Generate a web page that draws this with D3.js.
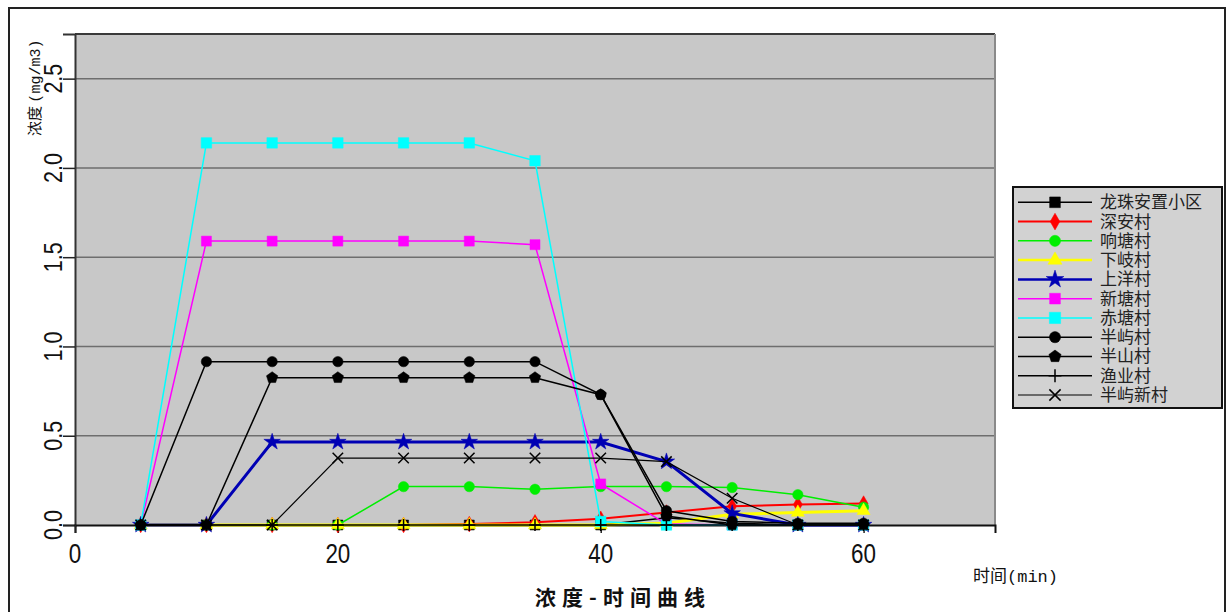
<!DOCTYPE html>
<html><head><meta charset="utf-8">
<script src="https://cdn.jsdelivr.net/npm/d3@7"></script>
<style>body{margin:0;background:#fff} svg{display:block}</style>
</head><body><svg id="c" width="1229" height="612"></svg>
<script>
// ---- data ----
const times = [5,10,15,20,25,30,35,40,45,50,55,60];
const seriesNames = ["龙珠安置小区","深安村","响塘村","下岐村","上洋村","新塘村","赤塘村","半屿村","半山村","渔业村","半屿新村"];
const longzhu   = [0,0,0,0,0,0,0,0,0.04,0.01,0,0];
const shenan    = [0,0,0,0,0,0.005,0.015,0.035,0.07,0.105,0.115,0.12];
const xiangtang = [0,0,0,0,0.215,0.215,0.2,0.215,0.215,0.21,0.17,0.1];
const xiaqi     = [0,0,0,0,0,0,0,0,0.01,0.06,0.07,0.08];
const shangyang = [0,0,0.465,0.465,0.465,0.465,0.465,0.465,0.355,0.065,0,0];
const xintang   = [0,1.59,1.59,1.59,1.59,1.59,1.57,0.23,0.005,0,0,0];
const chitang   = [0,2.14,2.14,2.14,2.14,2.14,2.04,0.02,0,0,0,0];
const banyu     = [0,0.915,0.915,0.915,0.915,0.915,0.915,0.73,0.08,0.02,0.01,0.01];
const banshan   = [0,0,0.825,0.825,0.825,0.825,0.825,0.73,0.05,0,0,0];
const yuye      = [0,0,0,0,0,0,0,0,0,0,0,0];
const banyuxin  = [0,0,0,0.375,0.375,0.375,0.375,0.375,0.355,0.15,0,0];
const seriesValues = [longzhu,shenan,xiangtang,xiaqi,shangyang,xintang,chitang,banyu,banshan,yuye,banyuxin];
const yTicks = [0,0.5,1.0,1.5,2.0,2.5];
const xTicks = [0,20,40,60];
const xTitle = "时间(min)";
const yTitleCn = "浓度";
const yTitleUnit = "(mg/m3)";
const chartTitle = "浓度-时间曲线";

// ---- custom symbols ----
const pentagon = {draw(ctx,size){const r=Math.sqrt(size/2.378);for(let i=0;i<5;i++){const a=-Math.PI/2+i*2*Math.PI/5;const px=r*Math.cos(a),py=r*Math.sin(a);i?ctx.lineTo(px,py):ctx.moveTo(px,py);}ctx.closePath();}};
const plusS = {draw(ctx,size){const r=Math.sqrt(size)/2;ctx.moveTo(0,-r);ctx.lineTo(0,r);ctx.moveTo(-r,0);ctx.lineTo(r,0);}};
const timesS = {draw(ctx,size){const r=Math.sqrt(size)/2;ctx.moveTo(-r,-r);ctx.lineTo(r,r);ctx.moveTo(-r,r);ctx.lineTo(r,-r);}};

const styles = [
 {color:"#000000", sym:d3.symbolSquare, size:100, w:1.5, fill:true},
 {color:"#ff0000", sym:d3.symbolDiamond, size:70, w:2, fill:true},
 {color:"#00ee00", sym:d3.symbolCircle, size:85, w:1.5, fill:true},
 {color:"#ffff00", sym:d3.symbolTriangle, size:75, w:3, fill:true},
 {color:"#0000b4", sym:d3.symbolStar, size:85, w:3, fill:true},
 {color:"#ff00ff", sym:d3.symbolSquare, size:100, w:1.5, fill:true},
 {color:"#00ffff", sym:d3.symbolSquare, size:110, w:1.5, fill:true},
 {color:"#000000", sym:d3.symbolCircle, size:85, w:1.5, fill:true},
 {color:"#000000", sym:pentagon, size:85, w:1.5, fill:true},
 {color:"#000000", sym:plusS, size:144, w:1.5, fill:false},
 {color:"#000000", sym:timesS, size:110, w:1.2, fill:false}
];

// ---- layout ----
const svg = d3.select("#c");
const x = d3.scaleLinear([0,70],[75,995]);
const y = d3.scaleLinear([0,2.75],[525,34]);

// outer frame
svg.append("rect").attr("x",9).attr("y",8).attr("width",1216).attr("height",640)
  .attr("fill","#fff").attr("stroke","#222").attr("stroke-width",2);

// plot area
svg.append("rect").attr("x",x(0)).attr("y",y(2.75)).attr("width",x(70)-x(0)).attr("height",y(0)-y(2.75))
  .attr("fill","#c8c8c8");
// gridlines
svg.append("g").selectAll("line").data(yTicks.filter(d=>d>0)).join("line")
  .attr("x1",x(0)).attr("x2",x(70)).attr("y1",d=>y(d)).attr("y2",d=>y(d))
  .attr("stroke","#6e6e6e").attr("stroke-width",1.5);
// borders
svg.append("line").attr("x1",x(0)).attr("x2",x(70)).attr("y1",y(2.75)).attr("y2",y(2.75)).attr("stroke","#3a3a3a").attr("stroke-width",2);
svg.append("line").attr("x1",x(70)).attr("x2",x(70)).attr("y1",y(2.75)).attr("y2",y(0)).attr("stroke","#8a8a8a").attr("stroke-width",2);

// axes
const yAxis = svg.append("g").attr("transform",`translate(${x(0)},0)`)
  .call(d3.axisLeft(y).tickValues(yTicks).tickSize(12).tickFormat(""));
yAxis.select(".domain").attr("stroke","#333").attr("stroke-width",2);
yAxis.selectAll(".tick line").attr("stroke","#222").attr("stroke-width",1.5);
const xAxis = svg.append("g").attr("transform",`translate(0,${y(0)})`)
  .call(d3.axisBottom(x).tickValues(xTicks).tickSize(8).tickFormat(""));
xAxis.select(".domain").attr("stroke","#111").attr("stroke-width",2);
xAxis.selectAll(".tick line").attr("stroke","#222").attr("stroke-width",1.5);

// tick labels
svg.append("g").selectAll("text").data(yTicks).join("text")
  .attr("transform",d=>`translate(62,${y(d)}) rotate(-90) scale(0.83,1)`)
  .attr("text-anchor","middle").attr("font-family","Liberation Sans, Arial, sans-serif")
  .attr("font-size",26).attr("fill","#111").text(d=>d3.format(".1f")(d));
svg.append("g").selectAll("text").data(xTicks).join("text")
  .attr("transform",d=>`translate(${x(d)},563) scale(0.83,1)`)
  .attr("text-anchor","middle").attr("font-family","Liberation Sans, Arial, sans-serif")
  .attr("font-size",27).attr("fill","#111").text(d=>d);

// axis titles
const yt = svg.append("text").attr("transform","translate(40,136) rotate(-90)")
  .attr("font-size",15).attr("fill","#111");
yt.append("tspan").attr("font-family","Noto Sans CJK SC").text(yTitleCn+" ");
yt.append("tspan").attr("font-family","Liberation Mono, monospace").text(yTitleUnit);
const xt = svg.append("text").attr("x",973).attr("y",582).attr("font-size",17).attr("fill","#111");
xt.append("tspan").attr("font-family","Noto Sans CJK SC").text(xTitle.slice(0,2));
xt.append("tspan").attr("font-family","Liberation Mono, monospace").text(xTitle.slice(2));
svg.append("text").attr("x",535).attr("y",605).attr("font-family","Noto Sans CJK SC")
  .attr("font-weight","bold").attr("font-size",21).attr("textLength",170).attr("lengthAdjust","spacing")
  .attr("fill","#111").text(chartTitle);

// series
const line = d3.line().x((d,i)=>x(times[i])).y(d=>y(d));
const gS = svg.append("g");
seriesValues.forEach((vals,k)=>{
  const st = styles[k];
  const g = gS.append("g");
  g.append("path").attr("d",line(vals)).attr("fill","none").attr("stroke",st.color).attr("stroke-width",st.w);
  const sym = d3.symbol().type(st.sym).size(st.size);
  g.selectAll("path.m").data(vals).join("path").attr("class","m")
    .attr("transform",(d,i)=>`translate(${x(times[i])},${y(d)})`)
    .attr("d",sym())
    .attr("fill",st.fill?st.color:"none")
    .attr("stroke",st.color).attr("stroke-width",st.fill?0.5:1.5);
});

// legend
const lg = svg.append("g");
lg.append("rect").attr("x",1013).attr("y",187).attr("width",209).attr("height",221)
  .attr("fill","#d2d2d2").attr("stroke","#111").attr("stroke-width",2);
seriesNames.forEach((name,k)=>{
  const st = styles[k];
  const cy = 202.3 + k*19.27;
  lg.append("line").attr("x1",1018).attr("x2",1092).attr("y1",cy).attr("y2",cy)
    .attr("stroke",st.color).attr("stroke-width",Math.min(st.w,2.5));
  lg.append("path").attr("transform",`translate(1055,${cy})`)
    .attr("d",d3.symbol().type(st.sym).size(st.size*1.15)())
    .attr("fill",st.fill?st.color:"none").attr("stroke",st.color).attr("stroke-width",st.fill?0.5:1.5);
  lg.append("text").attr("x",1100).attr("y",cy+6).attr("font-family","Noto Sans CJK SC")
    .attr("font-size",17).attr("fill","#222").text(name);
});
</script></body></html>
